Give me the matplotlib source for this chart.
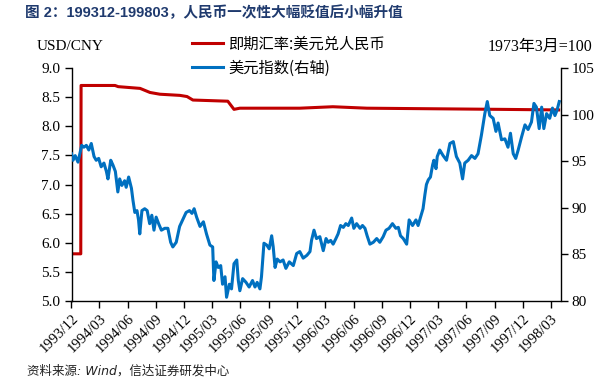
import matplotlib
matplotlib.use("Agg")
import matplotlib.pyplot as plt
import matplotlib.dates as mdates
import numpy as np
import datetime as dt

# ---------------- data ----------------
red_dates = ["1993-12-01", "1993-12-31", "1994-01-01", "1994-04-21", "1994-05-01",
             "1994-07-11", "1994-08-12", "1994-09-13", "1994-11-17", "1994-12-10",
             "1994-12-29", "1995-04-21", "1995-05-11", "1995-05-30", "1995-12-10",
             "1996-03-26", "1996-07-14", "1997-02-13", "1997-09-18", "1998-03-27"]
red_values = [5.81, 5.81, 8.70, 8.70, 8.68,
              8.65, 8.58, 8.55, 8.53, 8.51,
              8.45, 8.43, 8.29, 8.31, 8.31,
              8.335, 8.31, 8.30, 8.29, 8.28]

blue_dates = [
    "1993-12-01", "1993-12-06", "1993-12-13", "1993-12-22", "1994-01-03", "1994-01-10",
    "1994-01-18", "1994-01-26", "1994-02-03", "1994-02-12", "1994-02-19", "1994-02-27",
    "1994-03-07", "1994-03-16", "1994-03-24", "1994-03-29", "1994-04-07", "1994-04-14",
    "1994-04-22", "1994-04-30", "1994-05-06", "1994-05-13", "1994-05-22", "1994-05-27",
    "1994-06-04", "1994-06-13", "1994-06-18", "1994-06-24", "1994-07-01", "1994-07-06",
    "1994-07-10", "1994-07-17", "1994-07-26", "1994-08-03", "1994-08-11", "1994-08-18",
    "1994-08-25", "1994-09-01", "1994-09-09", "1994-09-18", "1994-09-29", "1994-10-09",
    "1994-10-18", "1994-10-25", "1994-11-05", "1994-11-16", "1994-11-27", "1994-12-07",
    "1994-12-18", "1994-12-26", "1995-01-02", "1995-01-10", "1995-01-21", "1995-02-01",
    "1995-02-11", "1995-02-22", "1995-03-03", "1995-03-07", "1995-03-14", "1995-03-21",
    "1995-03-29", "1995-04-04", "1995-04-12", "1995-04-17", "1995-04-26", "1995-05-03",
    "1995-05-11", "1995-05-20", "1995-05-25", "1995-05-30", "1995-06-08", "1995-06-19",
    "1995-06-29", "1995-07-10", "1995-07-18", "1995-07-25", "1995-08-03", "1995-08-08",
    "1995-08-16", "1995-08-25", "1995-09-02", "1995-09-10", "1995-09-15", "1995-09-21",
    "1995-09-28", "1995-10-07", "1995-10-17", "1995-10-26", "1995-11-06", "1995-11-19",
    "1995-11-30", "1995-12-10", "1995-12-21", "1996-01-02", "1996-01-12", "1996-01-17",
    "1996-01-25", "1996-02-02", "1996-02-13", "1996-02-24", "1996-03-04", "1996-03-11",
    "1996-03-19", "1996-03-27", "1996-04-05", "1996-04-12", "1996-04-20", "1996-04-29",
    "1996-05-07", "1996-05-15", "1996-05-26", "1996-06-02", "1996-06-11", "1996-06-22",
    "1996-06-30", "1996-07-08", "1996-07-15", "1996-07-24", "1996-08-04", "1996-08-15",
    "1996-08-25", "1996-09-05", "1996-09-14", "1996-09-24", "1996-10-05", "1996-10-16",
    "1996-10-24", "1996-10-31", "1996-11-09", "1996-11-20", "1996-11-28", "1996-12-09",
    "1996-12-20", "1996-12-27", "1997-01-04", "1997-01-12", "1997-01-18", "1997-01-23",
    "1997-01-29", "1997-02-05", "1997-02-12", "1997-02-16", "1997-02-23", "1997-02-27",
    "1997-03-05", "1997-03-07", "1997-03-18", "1997-03-29", "1997-04-09", "1997-04-20",
    "1997-04-30", "1997-05-11", "1997-05-20", "1997-05-27", "1997-06-07", "1997-06-18",
    "1997-06-29", "1997-07-09", "1997-07-20", "1997-07-31", "1997-08-08", "1997-08-16",
    "1997-08-27", "1997-09-05", "1997-09-12", "1997-09-23", "1997-10-04", "1997-10-14",
    "1997-10-22", "1997-10-31", "1997-11-08", "1997-11-16", "1997-11-27", "1997-12-08",
    "1997-12-18", "1997-12-29", "1998-01-06", "1998-01-14", "1998-01-23", "1998-01-31",
    "1998-02-07", "1998-02-16", "1998-02-26", "1998-03-07", "1998-03-15", "1998-03-22",
    "1998-03-29"]
blue_values = [
    95.8, 95.1, 95.6, 94.9, 96.7, 96.5,
    96.7, 96.2, 96.9, 95.5, 95.1, 95.3,
    94.4, 94.8, 93.9, 93.1, 95.1, 94.6,
    93.9, 91.7, 93.1, 92.4, 92.9, 92.2,
    93.3, 92.1, 90.8, 89.5, 89.7, 88.7,
    87.2, 89.7, 89.9, 89.7, 88.3, 89.2,
    87.6, 89.0, 88.3, 87.6, 87.8, 87.8,
    86.3, 85.8, 86.3, 88.0, 88.8, 89.5,
    89.7, 89.4, 89.9, 89.0, 88.0, 88.5,
    87.2, 86.0, 85.8, 82.2, 84.2, 83.6,
    83.8, 81.8, 82.6, 80.4, 81.8, 81.3,
    84.0, 84.4, 82.2, 81.1, 82.4, 82.0,
    81.5, 82.2, 81.5, 82.0, 81.3, 82.6,
    86.2, 86.0, 85.6, 87.0, 85.8, 83.6,
    84.5, 84.2, 84.4, 83.5, 84.2, 83.8,
    85.1, 85.3, 84.6, 84.9, 85.3, 86.5,
    87.6, 86.7, 86.9, 85.4, 86.7, 86.3,
    86.5, 86.1, 86.7, 87.2, 88.1, 87.9,
    88.3, 88.1, 88.9, 87.8, 88.3, 87.8,
    88.1, 87.8, 87.0, 86.1, 86.3, 86.7,
    86.3, 86.9, 87.6, 87.8, 88.3, 87.8,
    87.9, 87.0, 86.7, 86.1, 88.7, 88.1,
    88.7, 88.1, 89.0, 89.9, 91.4, 92.5,
    93.0, 93.3, 94.6, 95.1, 94.2, 95.5,
    96.0, 96.2, 95.6, 95.1, 96.9, 97.1,
    95.5, 94.8, 93.1, 94.8, 95.1, 95.6,
    95.3, 95.8, 97.8, 100.1, 101.4, 99.9,
    99.6, 98.2, 99.1, 97.3, 97.4, 96.5,
    98.0, 95.8, 95.3, 96.2, 97.6, 98.9,
    98.4, 99.2, 101.2, 100.8, 98.5, 100.8,
    98.5, 100.1, 99.6, 100.7, 99.9, 100.5,
    101.4]

red_label = "即期汇率:美元兑人民币"
blue_label = "美元指数(右轴)"
title_text = "图 2：199312-199803，人民币一次性大幅贬值后小幅升值"
source_text = "资料来源: Wind，信达证券研发中心"
left_unit = "USD/CNY"
right_unit = "1973年3月=100"
left_ticks = [5.0, 5.5, 6.0, 6.5, 7.0, 7.5, 8.0, 8.5, 9.0]
right_ticks = [80, 85, 90, 95, 100, 105]

# ---------------- plot ----------------
to_d = lambda s: dt.datetime.strptime(s, "%Y-%m-%d")
rd = [to_d(s) for s in red_dates]
bd = [to_d(s) for s in blue_dates]

serif = ["Liberation Serif", "Noto Sans CJK SC"]
cjk = ["Noto Sans CJK SC", "DejaVu Sans"]

fig = plt.figure(figsize=(6.01, 3.80), dpi=100)
ax = fig.add_axes([71.5 / 601, 1 - 301 / 380, (560.5 - 71.5) / 601, (301 - 68) / 380])
ax2 = ax.twinx()

red_c = "#C00000"
blue_c = "#0070C0"
l1, = ax.plot(rd, red_values, color=red_c, lw=2.2, solid_joinstyle="round")
l2, = ax2.plot(bd, blue_values, color=blue_c, lw=2.2, solid_joinstyle="round")

ax.set_ylim(5.0, 9.0)
ax2.set_ylim(80, 105)
ax.set_yticks(left_ticks)
ax.set_yticklabels([f"{v:.1f}" for v in left_ticks])
ax2.set_yticks(right_ticks)
ax2.set_yticklabels([str(v) for v in right_ticks])

ax.set_xlim(dt.datetime(1993, 12, 1), dt.datetime(1998, 4, 2))
xt = [dt.datetime(1993 + (11 + 3 * i) // 12, (11 + 3 * i) % 12 + 1, 1) for i in range(18)]
ax.set_xticks(xt)
ax.set_xticklabels([d.strftime("%Y/%m") for d in xt], rotation=45, ha="right",
                   va="top", rotation_mode="anchor", family=serif, fontsize=10.5)

for a in (ax, ax2):
    a.spines["top"].set_visible(False)
    for s in a.spines.values():
        s.set_linewidth(1.0)
        s.set_color("black")
ax.spines["right"].set_visible(False)
ax2.spines["left"].set_visible(False)
ax2.spines["bottom"].set_visible(False)

ax.tick_params(axis="y", direction="out", length=5, width=1, pad=3, labelsize=11)
ax.tick_params(axis="x", direction="out", length=5, width=1, pad=3)
ax2.tick_params(axis="y", direction="out", length=5, width=1, pad=3, labelsize=11)
for lab in ax.get_yticklabels() + ax2.get_yticklabels():
    lab.set_family(serif)

fig.text(25 / 601, 1 - 13 / 380, title_text, family=["Liberation Sans", "Noto Sans CJK SC"],
         fontsize=10.5, fontweight="bold", color="#1F3A6E", va="center", ha="left")
fig.text(37 / 601, 1 - 47 / 380, left_unit, family=serif, fontsize=11, va="center", ha="left")
fig.text(592 / 601, 1 - 47 / 380, right_unit, family=serif, fontsize=11.5, va="center", ha="right")
fig.text(27 / 601, 1 - 371 / 380, source_text, family=["DejaVu Sans", "Noto Sans CJK SC"],
         fontsize=9, style="italic", color="#222222", va="center", ha="left")

leg = fig.legend([l1, l2], [red_label, blue_label], loc="upper left",
                 bbox_to_anchor=(191.5 / 601, 1 - 35.5 / 380), frameon=False,
                 prop={"family": cjk, "size": 11}, handlelength=2.07,
                 handletextpad=0.33, labelspacing=0.46, borderaxespad=0, borderpad=0)

fig.savefig("out.png", dpi=100)
